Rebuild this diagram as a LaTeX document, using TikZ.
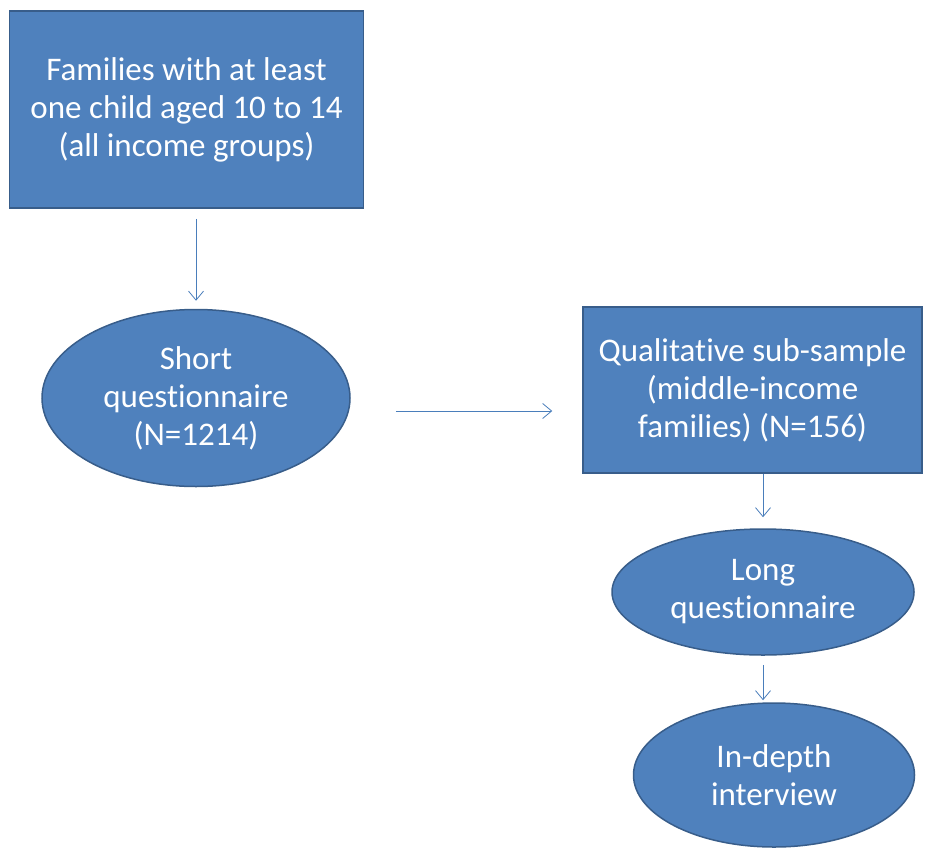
\documentclass[tikz,border=0pt]{standalone}
\usepackage{fontspec}
\setmainfont{Carlito}[RawFeature={-liga}]
\usetikzlibrary{arrows.meta, shapes.geometric}
\definecolor{boxfill}{HTML}{4F81BD}
\definecolor{boxline}{HTML}{385D8A}
\definecolor{arrowline}{HTML}{4A7EBB}

\begin{document}
\begin{tikzpicture}[
    x=1pt, y=-1pt,
    stagebox/.style={draw=boxline, line width=1.5pt, fill=boxfill, text=white, align=center, inner sep=0pt, font=\fontsize{33}{38}\selectfont},
    stageoval/.style={ellipse, draw=boxline, line width=1.5pt, fill=boxfill, text=white, align=center, inner sep=0pt, font=\fontsize{33}{38}\selectfont},
    arrow/.style={-{Straight Barb[length=9pt, width=15pt]}, draw=arrowline, line width=0.8pt}
]
\useasboundingbox (0,0) rectangle (925,848);

% Whole sample (left)
\node[stagebox, minimum width=354pt, minimum height=197pt] (families) at (186.5,109.5) {Families with at least\\one child aged 10 to 14\\(all income groups)};
\node[stageoval, minimum width=308pt, minimum height=177pt] (short) at (196,398) {Short\\questionnaire\\(N=1214)};

% Sub-sample (right)
\node[stagebox, minimum width=339pt, minimum height=166pt] (qual) at (752.5,390) {Qualitative sub-sample\\(middle-income\\families) (N=156)};
\node[stageoval, minimum width=302pt, minimum height=126pt] (long) at (763,592) {Long\\questionnaire};
\node[stageoval, minimum width=281pt, minimum height=144pt] (depth) at (774,775) {In-depth\\interview};

% Arrows
\draw[arrow, shorten <=10pt, shorten >=8pt] (short.north |- families.south) -- (short.north);
\draw[arrow, shorten <=45pt, shorten >=30pt] ([yshift=-13pt]short.east) -- ([yshift=-21pt]qual.west);
\draw[arrow, shorten >=11pt] (long.north |- qual.south) -- (long.north);
\draw[arrow, shorten <=9pt, shorten >=2pt] (long.south) -- (long.south |- depth.north);

\end{tikzpicture}
\end{document}
